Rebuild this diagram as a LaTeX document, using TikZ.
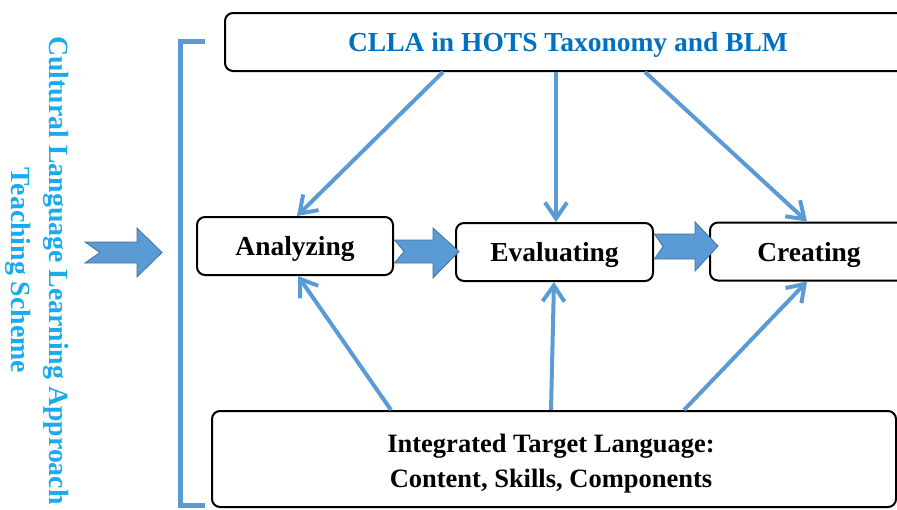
\documentclass[tikz,border=0pt]{standalone}
\usepackage{fontspec}
\setmainfont{Liberation Serif}
\usetikzlibrary{arrows.meta,calc}
\definecolor{arrowblue}{HTML}{5B9BD5}
\definecolor{arrowedge}{HTML}{41719C}
\definecolor{titleblue}{HTML}{0070C0}
\definecolor{sideblue}{HTML}{1AABEF}
\begin{document}
\begin{tikzpicture}[x=1pt,y=-1pt,
  box/.style={draw=black,line width=2pt,rounded corners=8pt,fill=white,
    minimum height=58pt,inner sep=0pt,text depth=0pt,
    font=\fontsize{27.5}{33}\selectfont\bfseries},
  thinarrow/.style={draw=arrowblue,line width=4pt,
    -{Straight Barb[length=16pt,width=22pt]}},
  fatarrow/.style={fill=arrowblue,draw=arrowedge,line width=0.8pt,line join=miter},
  bracketline/.style={draw=arrowblue,line width=5pt,line join=miter}]
\useasboundingbox (0,0) rectangle (897,509);
\clip (0,0) rectangle (897,509);

% boxes
\node[box,minimum width=686pt,text=titleblue] (top) at (568,42) {CLLA in HOTS Taxonomy and BLM};
\node[box,minimum width=196pt] (an) at (295,246) {Analyzing};
\node[box,minimum width=197pt] (ev) at (554.5,252) {Evaluating};
\node[box,minimum width=198pt] (cr) at (809,251.5) {Creating};
\node[box,minimum width=684pt,minimum height=96pt] (it) at (554,459) {};
\node[align=center,inner sep=0pt,font=\fontsize{26.5}{35}\selectfont\bfseries]
  (ittext) at (551,463.5) {Integrated Target Language:\\Content, Skills, Components};

% thin arrows from top box
\draw[thinarrow] (top.south -| 443,0) -- (an.north -| 297,0);
\draw[thinarrow] (top.south -| 556,0) -- (ev.north -| 556,0);
\draw[thinarrow] (top.south -| 645,0) -- (cr.north -| 807,0);
% thin arrows from bottom box
\draw[thinarrow] (it.north -| 391,0) -- (an.south -| 298,0);
\draw[thinarrow] (it.north -| 551,0) -- (ev.south -| 554,0);
\draw[thinarrow] (it.north -| 684,0) -- (cr.south -| 807,0);

% fat arrows between the boxes
\draw[fatarrow] (394.5,240) -- (433,240) -- (433,228) -- (459,251.5) -- (433,278)
  -- (433,263) -- (394.5,263) -- (404,251.5) -- cycle;
\draw[fatarrow] (654.5,234) -- (695,234) -- (695,222) -- (718,246) -- (695,271)
  -- (695,259) -- (654.5,259) -- (663,246.5) -- cycle;

% left big arrow
\draw[fatarrow] (85,242) -- (137,242) -- (137,228) -- (162,252.5) -- (137,277)
  -- (137,263) -- (85,263) -- (100,252.5) -- cycle;

% bracket
\draw[bracketline] (205,41) -- (180.5,41) -- (180.5,505) -- (205,505);

% side text
\node[rotate=-90,text=sideblue,align=center,inner sep=0pt,
  font=\fontsize{27.8}{38}\selectfont\bfseries] (side) at (37,270.5)
  {Cultural Language Learning Approach\\Teaching Scheme};
\end{tikzpicture}
\end{document}
